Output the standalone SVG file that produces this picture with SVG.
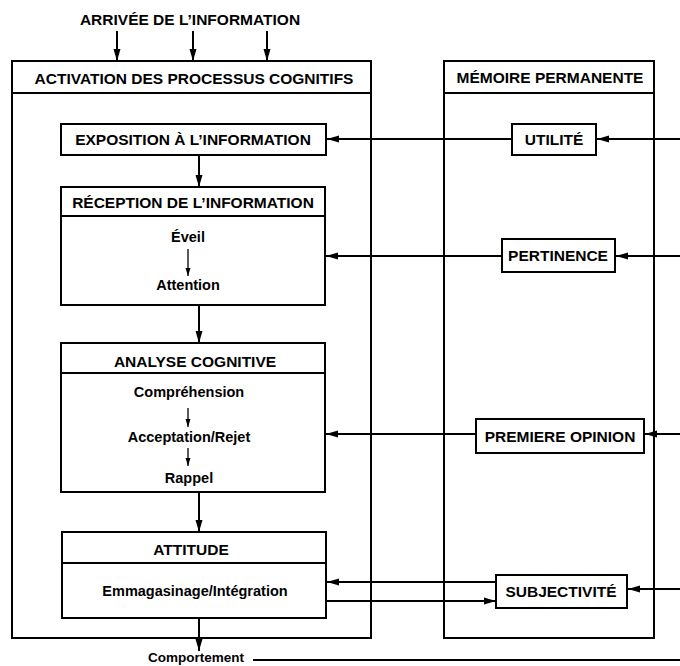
<svg xmlns="http://www.w3.org/2000/svg" width="680" height="666" viewBox="0 0 680 666">
<style>
.box{fill:#fff;stroke:#000;stroke-width:2}
.frame{fill:none;stroke:#000;stroke-width:2}
.ln{fill:none;stroke:#000;stroke-width:2}
.thin{fill:none;stroke:#000;stroke-width:1.3}
text{font-family:"Liberation Sans",Arial,sans-serif;font-weight:bold;fill:#000;text-anchor:middle}
.h{font-size:15.5px}
.s{font-size:14.5px}
</style>
<defs>
<marker id="ah" markerUnits="userSpaceOnUse" markerWidth="14" markerHeight="10" refX="12" refY="5" orient="auto">
<path d="M0,1.5 L12,5 L0,8.5 Z" fill="#000"/>
</marker>
<marker id="as" markerUnits="userSpaceOnUse" markerWidth="10" markerHeight="8" refX="8" refY="4" orient="auto">
<path d="M0,1.5 L8,4 L0,6.5 Z" fill="#000"/>
</marker>
</defs>
<rect width="680" height="666" fill="#fff"/>

<text class="h" x="190" y="25">ARRIVÉE DE L’INFORMATION</text>

<g id="activation">
<rect class="frame" x="12" y="61" width="359" height="577"/>
<line class="ln" x1="12" y1="93" x2="371" y2="93"/>
<text class="h" x="194" y="84">ACTIVATION DES PROCESSUS COGNITIFS</text>
</g>

<g id="memoire">
<rect class="frame" x="444" y="61" width="210" height="577"/>
<line class="ln" x1="444" y1="93" x2="654" y2="93"/>
<text class="h" x="550" y="83">MÉMOIRE PERMANENTE</text>
</g>

<g id="exposition">
<rect class="box" x="61" y="124" width="265" height="31"/>
<text class="h" x="193" y="145">EXPOSITION À L’INFORMATION</text>
</g>

<g id="reception">
<rect class="box" x="61" y="187" width="264" height="118"/>
<line class="ln" x1="61" y1="216" x2="325" y2="216"/>
<text class="h" x="193" y="208">RÉCEPTION DE L’INFORMATION</text>
<text class="s" x="188" y="242">Éveil</text>
<text class="s" x="188" y="290">Attention</text>
</g>

<g id="analyse">
<rect class="box" x="61" y="343" width="264" height="149"/>
<line class="ln" x1="61" y1="373" x2="325" y2="373"/>
<text class="h" x="195" y="367">ANALYSE COGNITIVE</text>
<text class="s" x="189" y="397">Compréhension</text>
<text class="s" x="189" y="442">Acceptation/Rejet</text>
<text class="s" x="189" y="483">Rappel</text>
</g>

<g id="attitude">
<rect class="box" x="62" y="532" width="264" height="86"/>
<line class="ln" x1="62" y1="563" x2="326" y2="563"/>
<text class="h" x="191" y="555">ATTITUDE</text>
<text class="s" x="195" y="596">Emmagasinage/Intégration</text>
</g>

<g id="comportement">
<text x="196" y="662" style="font-size:13.5px">Comportement</text>
</g>

<g id="utilite">
<rect class="box" x="512" y="124" width="84" height="31"/>
<text class="h" x="554" y="145">UTILITÉ</text>
</g>

<g id="pertinence">
<rect class="box" x="502" y="239" width="113" height="33"/>
<text class="h" x="558" y="261">PERTINENCE</text>
</g>

<g id="premiere">
<rect class="box" x="476" y="419" width="168" height="34"/>
<text class="h" x="560" y="442">PREMIERE OPINION</text>
</g>

<g id="subjectivite">
<rect class="box" x="496" y="575" width="131" height="33"/>
<text class="h" x="561" y="597">SUBJECTIVITÉ</text>
</g>

<g id="connectors">
<line class="ln" x1="117" y1="31" x2="117" y2="61" marker-end="url(#ah)"/>
<line class="ln" x1="193" y1="31" x2="193" y2="61" marker-end="url(#ah)"/>
<line class="ln" x1="267" y1="31" x2="267" y2="61" marker-end="url(#ah)"/>
<line class="ln" x1="199" y1="155" x2="199" y2="187" marker-end="url(#ah)"/>
<line class="ln" x1="199" y1="305" x2="199" y2="343" marker-end="url(#ah)"/>
<line class="ln" x1="199" y1="492" x2="199" y2="532" marker-end="url(#ah)"/>
<line class="ln" x1="199" y1="618" x2="199" y2="651" marker-end="url(#ah)"/>
<line class="thin" x1="188" y1="249" x2="188" y2="276" marker-end="url(#as)"/>
<line class="thin" x1="188" y1="408" x2="188" y2="427" marker-end="url(#as)"/>
<line class="thin" x1="188" y1="448" x2="188" y2="466" marker-end="url(#as)"/>
<line class="ln" x1="680" y1="139" x2="597" y2="139" marker-end="url(#ah)"/>
<line class="ln" x1="512" y1="139" x2="327" y2="139" marker-end="url(#ah)"/>
<line class="ln" x1="680" y1="256" x2="616" y2="256" marker-end="url(#ah)"/>
<line class="ln" x1="502" y1="256" x2="326" y2="256" marker-end="url(#ah)"/>
<line class="ln" x1="680" y1="434" x2="645" y2="434" marker-end="url(#ah)"/>
<line class="ln" x1="476" y1="434" x2="326" y2="434" marker-end="url(#ah)"/>
<line class="ln" x1="680" y1="589" x2="628" y2="589" marker-end="url(#ah)"/>
<line class="ln" x1="496" y1="582" x2="327" y2="582" marker-end="url(#ah)"/>
<line class="ln" x1="326" y1="601" x2="496" y2="601" marker-end="url(#ah)"/>
<line class="ln" x1="253" y1="660" x2="680" y2="660"/>
</g>
</svg>
